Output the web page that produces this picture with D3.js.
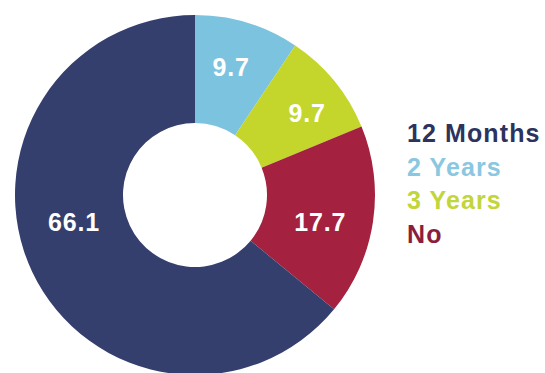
<!DOCTYPE html>
<html>
<head>
<meta charset="utf-8">
<script src="https://cdn.jsdelivr.net/npm/d3@7/dist/d3.min.js"></script>
<style>
  html, body { margin: 0; padding: 0; background: #ffffff; }
  svg { display: block; }
  text { font-family: "Liberation Sans", Arial, sans-serif; font-weight: bold; }
</style>
</head>
<body>
<svg id="chart" width="545" height="373"></svg>
<script>
// Ring order runs clockwise from 12 o'clock.
const categories = ["2 Years", "3 Years", "No", "12 Months"];
const values = [9.7, 9.7, 17.7, 66.1];
const valueLabels = ["9.7", "9.7", "17.7", "66.1"];
// Legend reads top to bottom in this order.
const legendOrder = ["12 Months", "2 Years", "3 Years", "No"];

const sliceColors = {
  "12 Months": "#343f6e",
  "2 Years": "#7cc3df",
  "3 Years": "#c4d62c",
  "No": "#a4223f"
};
const legendColors = {
  "12 Months": "#2c335d",
  "2 Years": "#8ac7e1",
  "3 Years": "#c2d53a",
  "No": "#8c1d3d"
};
// Value label placement: angular nudge (degrees) and radius inside each slice.
const labelShift = { "2 Years": -1.2, "3 Years": 3, "No": 3.5, "12 Months": 12.8 };
const labelRadius = { "2 Years": 133, "3 Years": 139, "No": 128, "12 Months": 124 };

const svg = d3.select("#chart");
const cx = 195, cy = 195;
const outerR = 180, innerR = 72;

const data = categories.map((c, i) => ({ cat: c, value: values[i], label: valueLabels[i] }));

const pie = d3.pie().sort(null).value(d => d.value);
const arcs = pie(data);

const arc = d3.arc().innerRadius(innerR).outerRadius(outerR);

const g = svg.append("g").attr("transform", `translate(${cx},${cy})`);

g.selectAll("path.slice")
  .data(arcs)
  .join("path")
  .attr("class", "slice")
  .attr("d", arc)
  .attr("fill", d => sliceColors[d.data.cat]);

const labelAngle = d => (d.startAngle + d.endAngle) / 2 + labelShift[d.data.cat] * Math.PI / 180;

// Value labels
g.selectAll("text.val")
  .data(arcs)
  .join("text")
  .attr("class", "val")
  .attr("text-anchor", "middle")
  .attr("dominant-baseline", "central")
  .attr("font-size", 25)
  .attr("letter-spacing", 0.8)
  .attr("fill", "#ffffff")
  .attr("x", d => labelRadius[d.data.cat] * Math.sin(labelAngle(d)))
  .attr("y", d => -labelRadius[d.data.cat] * Math.cos(labelAngle(d)))
  .text(d => d.data.label);

// Legend
const legendY = d3.scalePoint().domain(legendOrder).range([142, 243]);
svg.append("g")
  .selectAll("text")
  .data(legendOrder)
  .join("text")
  .attr("x", 407)
  .attr("y", d => legendY(d))
  .attr("font-size", 25)
  .attr("letter-spacing", 1.1)
  .attr("fill", d => legendColors[d])
  .text(d => d);
</script>
</body>
</html>
